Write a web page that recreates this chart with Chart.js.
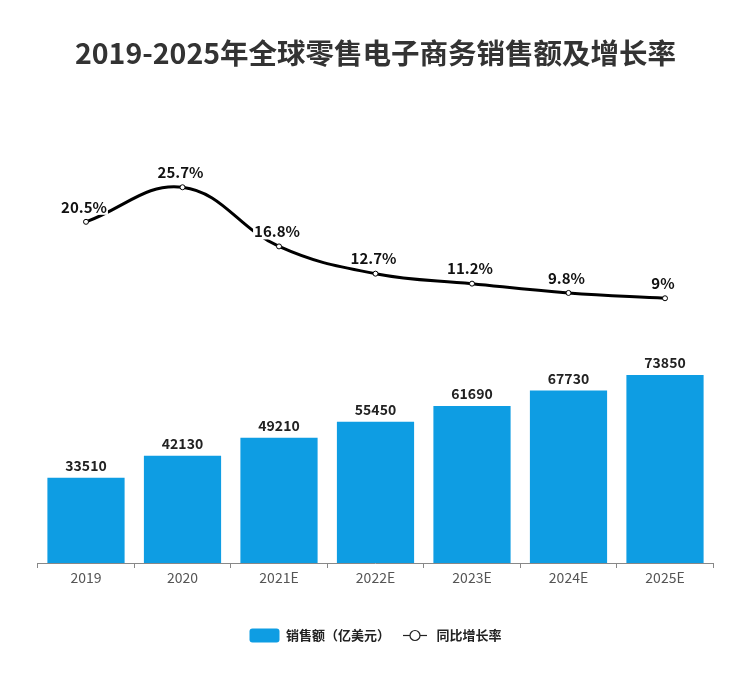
<!DOCTYPE html>
<html>
<head>
<meta charset="utf-8">
<script src="https://cdn.jsdelivr.net/npm/chart.js@4"></script>
<style>
html,body{margin:0;padding:0;background:#fff;}
#wrap{width:750px;height:682px;}
</style>
</head>
<body>
<div id="wrap"><canvas id="c" width="750" height="682"></canvas></div>
<script>
const categories = ['2019','2020','2021E','2022E','2023E','2024E','2025E'];
const salesValues = [33510, 42130, 49210, 55450, 61690, 67730, 73850];
const growthValues = [20.5, 25.7, 16.8, 12.7, 11.2, 9.8, 9];
const growthLabels = ['20.5%','25.7%','16.8%','12.7%','11.2%','9.8%','9%'];
const seriesNames = ['销售额（亿美元）','同比增长率'];
const titleText = '2019-2025年全球零售电子商务销售额及增长率';

const FONT = "'Noto Sans CJK SC', 'Open Sans', sans-serif";
const BAR_COLOR = '#0e9de3';

function makeBoxIcon(){
  const c = document.createElement('canvas');
  c.width = 31; c.height = 15;
  const x = c.getContext('2d');
  x.fillStyle = BAR_COLOR;
  x.beginPath();
  if (x.roundRect) x.roundRect(0.5,0.5,30,14,3); else x.rect(0.5,0.5,30,14);
  x.fill();
  return c;
}
function makeLineIcon(){
  const c = document.createElement('canvas');
  c.width = 26; c.height = 15;
  const x = c.getContext('2d');
  x.strokeStyle = '#222'; x.lineWidth = 1.2;
  x.beginPath(); x.moveTo(1,7.5); x.lineTo(25,7.5); x.stroke();
  x.fillStyle = '#fff';
  x.beginPath(); x.arc(13,7.5,5,0,Math.PI*2); x.fill(); x.stroke();
  return c;
}
const boxIcon = makeBoxIcon();
const lineIcon = makeLineIcon();

const labelPlugin = {
  id: 'valueLabels',
  afterDatasetsDraw(chart){
    const ctx = chart.ctx;
    ctx.save();
    ctx.textAlign = 'center';
    ctx.textBaseline = 'middle';
    const barMeta = chart.getDatasetMeta(0);
    ctx.font = "bold 14px " + FONT;
    ctx.fillStyle = '#222';
    barMeta.data.forEach((el,i)=>{
      ctx.fillText(String(salesValues[i]), el.x, el.y - 12);
    });
    const lineMeta = chart.getDatasetMeta(1);
    ctx.font = "bold 15px " + FONT;
    lineMeta.data.forEach((el,i)=>{
      const t = growthLabels[i];
      const w = ctx.measureText(t).width;
      const cx = el.x - 2, cy = el.y - 15;
      ctx.fillStyle = '#fff';
      ctx.fillRect(cx - w/2 - 1, cy - 8, w + 2, 16);
      ctx.fillStyle = '#111';
      ctx.fillText(t, cx, cy);
    });
    ctx.restore();
  }
};

new Chart(document.getElementById('c'), {
  data: {
    labels: categories,
    datasets: [
      {
        type: 'bar',
        label: seriesNames[0],
        data: salesValues,
        backgroundColor: BAR_COLOR,
        borderWidth: 0,
        yAxisID: 'yBar',
        categoryPercentage: 1.0,
        barPercentage: 0.8,
        order: 2
      },
      {
        type: 'line',
        label: seriesNames[1],
        data: growthValues,
        borderColor: '#000',
        borderWidth: 3,
        tension: 0.4,
        pointRadius: 2.5,
        pointBorderWidth: 1,
        pointBackgroundColor: '#fff',
        pointBorderColor: '#000',
        yAxisID: 'yLine',
        order: 1
      }
    ]
  },
  options: {
    responsive: false,
    animation: false,
    devicePixelRatio: 1,
    layout: { padding: { left: 37.75, right: 36.75, top: 0, bottom: 30 } },
    plugins: {
      title: {
        display: true,
        text: titleText,
        color: '#333',
        font: { family: FONT, size: 28.5, weight: 'bold' },
        padding: { top: 36, bottom: 70 }
      },
      legend: {
        position: 'bottom',
        labels: {
          usePointStyle: true,
          pointStyleWidth: 30,
          color: '#222',
          font: { family: FONT, size: 13, weight: 'bold' },
          padding: 10,
          generateLabels(chart){
            return chart.data.datasets.map((ds,i)=>({
              text: ds.label,
              pointStyle: i === 0 ? boxIcon : lineIcon,
              fillStyle: 'transparent',
              strokeStyle: 'transparent',
              lineWidth: 0,
              hidden: false,
              datasetIndex: i,
              fontColor: '#222'
            }));
          }
        }
      },
      tooltip: { enabled: false }
    },
    scales: {
      x: {
        offset: true,
        grid: {
          display: true,
          offset: true,
          drawOnChartArea: false,
          drawTicks: true,
          tickLength: 5,
          color: '#888'
        },
        border: { display: true, color: '#888', width: 1 },
        ticks: {
          color: '#555',
          font: { family: FONT, size: 14 },
          padding: 1
        },
        afterFit(scale){ scale.height = 56; }
      },
      yBar: {
        display: false,
        min: 0,
        max: 166000
      },
      yLine: {
        display: false,
        position: 'right',
        min: -30.83,
        max: 32.78
      }
    }
  },
  plugins: [labelPlugin]
});
</script>
</body>
</html>
